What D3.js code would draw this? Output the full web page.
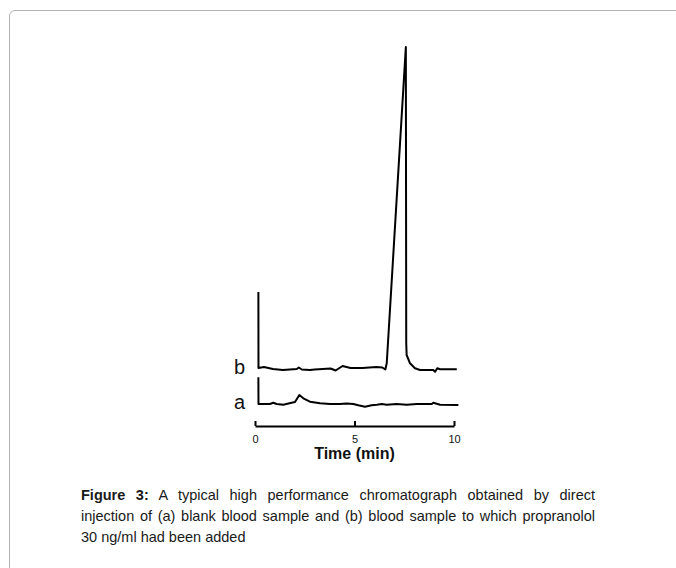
<!DOCTYPE html>
<html>
<head>
<meta charset="utf-8">
<script src="https://cdn.jsdelivr.net/npm/d3@7"></script>
<style>
  body { margin: 0; background: #fff; font-family: Arial, "Liberation Sans", sans-serif; }
  #frame { position: absolute; left: 9px; top: 10px; width: 720px; height: 620px;
           border: 1px solid #b3b3b3; border-radius: 6px; }
  #chart { position: absolute; left: 0; top: 0; }
  #caption { position: absolute; left: 81px; top: 485px; width: 514px;
             font-size: 14.5px; line-height: 21px; color: #1a1a1a; }
  #caption .j { text-align: justify; text-align-last: justify; }
</style>
</head>
<body>
<div id="frame"></div>
<svg id="chart" width="676" height="568"></svg>
<div id="caption">
  <div class="j"><b>Figure 3:</b> A typical high performance chromatograph obtained by direct</div>
  <div class="j">injection of (a) blank blood sample and (b) blood sample to which propranolol</div>
  <div>30 ng/ml had been added</div>
</div>
<script>
// time (min) and detector response (arbitrary units)
const traceA = [
  [0.17, 26.7], [0.175, 0], [0.75, 0], [0.92, 1.3], [1.09, 0], [1.42, -0.7],
  [1.84, 1.3], [2.01, 2], [2.23, 9], [2.43, 5.7], [2.76, 2.3], [3.27, 0.7],
  [3.77, 0], [4.27, 0], [4.6, 0.6], [4.94, 0], [5.19, -1.3], [5.53, -2.7],
  [5.86, -1.3], [6.12, -0.7], [6.37, 0], [6.62, -0.7], [7.12, 0], [7.62, -0.7],
  [8.13, 0], [8.88, 0], [8.96, 1.3], [9.3, -0.7], [10.22, -1]
];
const traceB = [
  [0.17, 77], [0.175, 1], [0.45, 2], [0.9, 0], [1.4, -1], [2.1, 0], [2.2, 1.5],
  [2.35, -0.5], [2.75, -1], [3.0, -0.5], [3.8, 0.5], [4.05, -1.5], [4.4, 3],
  [4.8, 1], [5.4, 1], [6.1, 2], [6.4, 1.5], [6.55, -0.5], [6.62, 5.7],
  [7.58, 322], [7.6, 25.7], [7.62, 14], [7.79, 5.7], [8.04, 0.7], [8.29, -1],
  [8.96, -1], [9.05, -2.7], [9.16, 0.7], [9.3, -0.3], [10.14, -0.3]
];
const traceNames = ["a", "b"];
const traceOffsets = [0, 35];
const xTicks = [0, 5, 10];
const xLabel = "Time (min)";

const svg = d3.select("#chart");

const x = d3.scaleLinear().domain([0, 10]).range([255, 454]);
const y = d3.scaleLinear().domain([0, 360]).range([404, 44]);

const traces = [traceA, traceB];

traces.forEach((tr, i) => {
  const off = traceOffsets[i];
  const line = d3.line()
    .x(d => x(d[0]))
    .y(d => y(d[1] + off));

  svg.append("path")
    .datum(tr)
    .attr("fill", "none")
    .attr("stroke", "#000")
    .attr("stroke-width", 2)
    .attr("stroke-linejoin", "round")
    .attr("d", line);

  svg.append("text")
    .attr("x", 245)
    .attr("y", y(off) + 5)
    .attr("text-anchor", "end")
    .attr("font-size", 20)
    .attr("fill", "#111")
    .text(traceNames[i]);
});

// time axis, ticks pointing up
const gX = svg.append("g")
  .attr("transform", "translate(0,426)")
  .call(d3.axisBottom(x).tickValues(xTicks).tickFormat(d3.format("d"))
    .tickSizeInner(-5).tickSizeOuter(0).tickPadding(9));

gX.select(".domain").attr("stroke-width", 2);
gX.selectAll(".tick line").attr("stroke-width", 2);
gX.selectAll(".tick text")
  .attr("font-size", 11)
  .attr("font-family", "Arial, 'Liberation Sans', sans-serif")
  .attr("fill", "#111");

svg.append("text")
  .attr("x", x(5))
  .attr("y", 459)
  .attr("text-anchor", "middle")
  .attr("font-size", 16)
  .attr("font-weight", "bold")
  .attr("fill", "#111")
  .text(xLabel);
</script>
</body>
</html>
